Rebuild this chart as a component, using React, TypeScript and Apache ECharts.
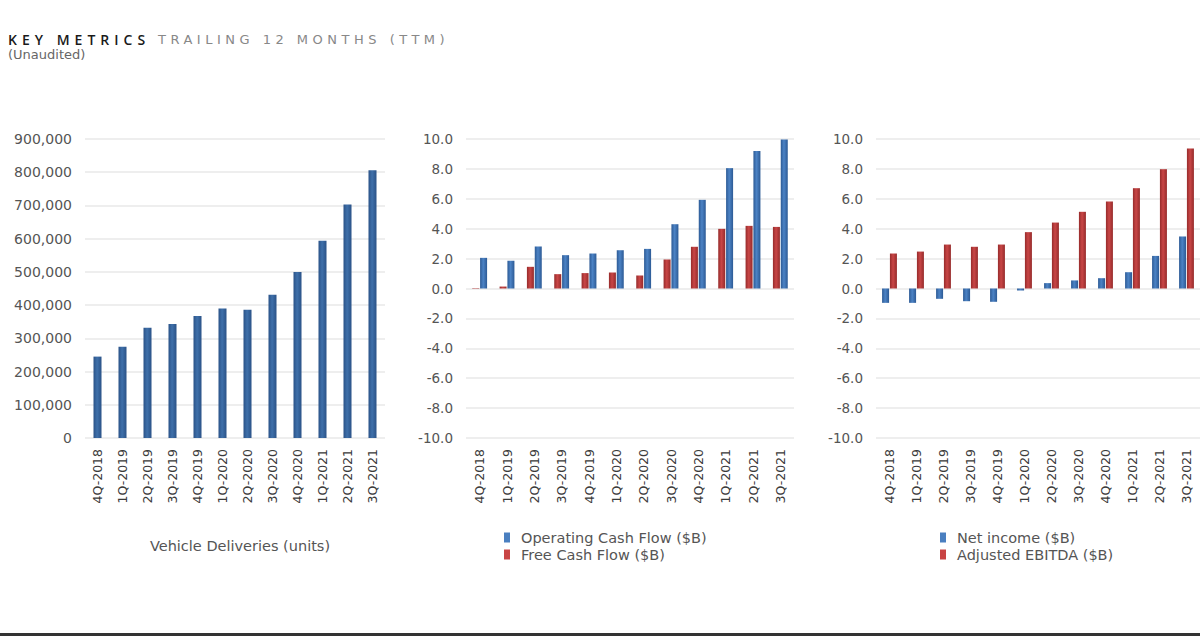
import React, { useEffect, useRef } from "react";
import * as echarts from "echarts";

const categories = ["4Q-2018", "1Q-2019", "2Q-2019", "3Q-2019", "4Q-2019", "1Q-2020", "2Q-2020", "3Q-2020", "4Q-2020", "1Q-2021", "2Q-2021", "3Q-2021"];
const deliveries = [245000, 275000, 332000, 343000, 367000, 390000, 386000, 431000, 499500, 594000, 703000, 806000];
const operatingCashFlow = [2.05, 1.85, 2.81, 2.23, 2.34, 2.56, 2.65, 4.3, 5.93, 8.05, 9.19, 9.97];
const freeCashFlow = [0.03, 0.13, 1.45, 0.96, 1.03, 1.07, 0.87, 1.94, 2.79, 3.99, 4.19, 4.12];
const netIncome = [-0.96, -0.96, -0.69, -0.85, -0.89, -0.13, 0.36, 0.54, 0.69, 1.09, 2.18, 3.48];
const adjustedEbitda = [2.34, 2.47, 2.94, 2.79, 2.94, 3.77, 4.41, 5.13, 5.82, 6.71, 7.98, 9.36];
const deliveriesTicks = { min: 0, max: 900000, interval: 100000 };
const dollarTicks = { min: -10, max: 10, interval: 2 };

const FONT = "DejaVu Sans";
const spaced = ["KEY METRICS", "TRAILING 12 MONTHS (TTM)"];

const grad = (edge: string, mid: string) => ({
  type: "linear",
  x: 0,
  y: 0,
  x2: 1,
  y2: 0,
  colorStops: [
    { offset: 0, color: edge },
    { offset: 0.45, color: mid },
    { offset: 1, color: edge },
  ],
});

const blueDark = grad("#2a5287", "#3f70aa");
const blue = grad("#2c5a95", "#4c83c5");
const red = grad("#962b2b", "#c94646");

export default function App() {
  const ref = useRef<HTMLDivElement>(null);
  useEffect(() => {
    document.body.style.margin = "0";
    const chart = echarts.init(ref.current!, undefined, { renderer: "svg" });
    const catAxis = (gridIndex: number) => ({
      type: "category",
      gridIndex,
      data: categories,
      axisLine: { show: false },
      axisTick: { show: false },
      axisLabel: { rotate: 90, interval: 0, margin: 11, fontSize: 12.5, color: "#3a3a3a", fontFamily: FONT },
    });
    const valAxis = (gridIndex: number, ticks: any, fmt: (v: number) => string, size: number) => ({
      type: "value",
      gridIndex,
      min: ticks.min,
      max: ticks.max,
      interval: ticks.interval,
      axisLine: { show: false },
      axisTick: { show: false },
      splitLine: { lineStyle: { color: "#e9e9e9", width: 1.5 } },
      axisLabel: { margin: 13, fontSize: size, color: "#555", fontFamily: FONT, formatter: fmt },
    });
    const legend = (left: number, items: { name: string; color: string }[]) => ({
      left,
      top: 525,
      orient: "vertical",
      icon: "rect",
      itemWidth: 6,
      itemHeight: 10,
      itemGap: 2,
      textStyle: { fontSize: 14.5, color: "#555", fontFamily: FONT, padding: [0, 0, 0, 6] },
      data: items.map((it) => ({ name: it.name, itemStyle: { color: it.color } })),
    });
    chart.setOption({
      animation: false,
      backgroundColor: "#ffffff",
      grid: [
        { left: 85, top: 139, width: 300, height: 299 },
        { left: 466, top: 139, width: 328, height: 299 },
        { left: 876, top: 139, width: 328, height: 299 },
      ],
      xAxis: [catAxis(0), catAxis(1), catAxis(2)],
      yAxis: [
        valAxis(0, deliveriesTicks, (v) => v.toLocaleString("en-US"), 14),
        valAxis(1, dollarTicks, (v) => v.toFixed(1), 13.5),
        valAxis(2, dollarTicks, (v) => v.toFixed(1), 13.5),
      ],
      legend: [
        legend(499, [
          { name: "Operating Cash Flow ($B)", color: "#4a7fc0" },
          { name: "Free Cash Flow ($B)", color: "#c94444" },
        ]),
        legend(935, [
          { name: "Net income ($B)", color: "#4a7fc0" },
          { name: "Adjusted EBITDA ($B)", color: "#c94444" },
        ]),
      ],
      series: [
        { name: "Vehicle Deliveries (units)", type: "bar", xAxisIndex: 0, yAxisIndex: 0, data: deliveries, barWidth: 8, itemStyle: { color: blueDark } },
        { name: "Free Cash Flow ($B)", type: "bar", xAxisIndex: 1, yAxisIndex: 1, data: freeCashFlow, barWidth: 7, barGap: "12%", itemStyle: { color: red } },
        { name: "Operating Cash Flow ($B)", type: "bar", xAxisIndex: 1, yAxisIndex: 1, data: operatingCashFlow, barWidth: 7, barGap: "12%", itemStyle: { color: blue } },
        { name: "Net income ($B)", type: "bar", xAxisIndex: 2, yAxisIndex: 2, data: netIncome, barWidth: 7, barGap: "12%", itemStyle: { color: blue } },
        { name: "Adjusted EBITDA ($B)", type: "bar", xAxisIndex: 2, yAxisIndex: 2, data: adjustedEbitda, barWidth: 7, barGap: "12%", itemStyle: { color: red } },
      ],
      graphic: [
        { type: "text", left: 8, top: 32, style: { text: "KEY METRICS", fontSize: 14, fontWeight: 600, fill: "#1a1a1a", fontFamily: "Open Sans" } },
        { type: "text", left: 158, top: 33, style: { text: "TRAILING 12 MONTHS (TTM)", fontSize: 13, fill: "#888", fontFamily: FONT } },
        { type: "text", left: 8, top: 48, style: { text: "(Unaudited)", fontSize: 13, fill: "#666", fontFamily: FONT } },
        { type: "text", x: 240, y: 546, style: { text: "Vehicle Deliveries (units)", fontSize: 14.5, fill: "#555", fontFamily: FONT, textAlign: "center", textVerticalAlign: "middle" } },
        { type: "rect", shape: { x: 0, y: 633, width: 1200, height: 3 }, style: { fill: "#333" } },
      ],
    });
    const patch = () => {
      const texts = ref.current?.querySelectorAll("text") || [];
      texts.forEach((t: any) => {
        const s = (t.textContent || "").trim();
        if (s === spaced[0]) t.style.letterSpacing = "5px";
        else if (s === spaced[1]) t.style.letterSpacing = "4.5px";
      });
    };
    patch();
    chart.on("finished", patch);
    const timer = setTimeout(patch, 50);
    return () => {
      clearTimeout(timer);
      chart.dispose();
    };
  }, []);
  return <div ref={ref} style={{ position: "absolute", left: 0, top: 0, width: 1200, height: 636 }} />;
}
